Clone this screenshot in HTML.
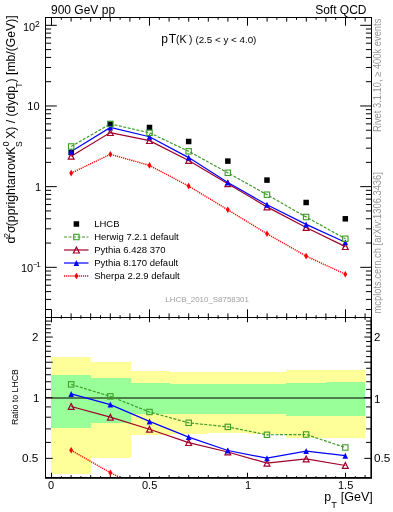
<!DOCTYPE html>
<html><head><meta charset="utf-8"><style>
html,body{margin:0;padding:0;background:#fff;width:393px;height:512px;overflow:hidden;position:relative;font-family:"Liberation Sans",sans-serif;}
</style></head><body>
<svg width="393" height="512" viewBox="0 0 393 512" style="position:absolute;left:0;top:0;will-change:transform">
<rect x="0" y="0" width="393" height="512" fill="#fff"/>
<rect x="51.00" y="357.00" width="40.00" height="117.00" fill="#ffff99"/>
<rect x="91.00" y="362.00" width="40.00" height="96.00" fill="#ffff99"/>
<rect x="131.00" y="371.00" width="39.00" height="64.00" fill="#ffff99"/>
<rect x="170.00" y="372.00" width="38.00" height="62.00" fill="#ffff99"/>
<rect x="208.00" y="372.00" width="40.00" height="61.00" fill="#ffff99"/>
<rect x="248.00" y="372.00" width="38.00" height="62.00" fill="#ffff99"/>
<rect x="286.00" y="370.00" width="40.00" height="68.00" fill="#ffff99"/>
<rect x="326.00" y="370.00" width="39.00" height="68.00" fill="#ffff99"/>
<rect x="51.00" y="375.00" width="40.00" height="53.00" fill="#99ff99"/>
<rect x="91.00" y="378.00" width="40.00" height="45.00" fill="#99ff99"/>
<rect x="131.00" y="383.00" width="39.00" height="31.00" fill="#99ff99"/>
<rect x="170.00" y="384.00" width="38.00" height="30.00" fill="#99ff99"/>
<rect x="208.00" y="384.00" width="40.00" height="30.00" fill="#99ff99"/>
<rect x="248.00" y="384.00" width="38.00" height="30.00" fill="#99ff99"/>
<rect x="286.00" y="383.00" width="40.00" height="33.00" fill="#99ff99"/>
<rect x="326.00" y="382.00" width="39.00" height="34.00" fill="#99ff99"/>
<line x1="45" y1="398" x2="371" y2="398" stroke="#000" stroke-width="1"/>
<rect x="45.5" y="17.5" width="326" height="300" fill="none" stroke="#000" stroke-width="1"/>
<rect x="45.5" y="317.5" width="326" height="160" fill="none" stroke="#000" stroke-width="1"/>
<rect x="45" y="478" width="327" height="0.8" fill="#000"/>
<rect x="370.4" y="318" width="0.6" height="160" fill="#000"/>
<path d="M51.50 17.50L51.50 25.70 M51.50 317.50L51.50 309.30 M51.50 317.50L51.50 322.30 M51.50 477.50L51.50 472.70 M61.30 17.50L61.30 19.80 M61.30 317.50L61.30 315.20 M61.30 317.50L61.30 318.80 M61.30 477.50L61.30 476.20 M71.10 17.50L71.10 21.60 M71.10 317.50L71.10 313.40 M71.10 317.50L71.10 319.90 M71.10 477.50L71.10 475.10 M80.90 17.50L80.90 19.80 M80.90 317.50L80.90 315.20 M80.90 317.50L80.90 318.80 M80.90 477.50L80.90 476.20 M90.70 17.50L90.70 21.60 M90.70 317.50L90.70 313.40 M90.70 317.50L90.70 319.90 M90.70 477.50L90.70 475.10 M100.50 17.50L100.50 19.80 M100.50 317.50L100.50 315.20 M100.50 317.50L100.50 318.80 M100.50 477.50L100.50 476.20 M110.30 17.50L110.30 21.60 M110.30 317.50L110.30 313.40 M110.30 317.50L110.30 319.90 M110.30 477.50L110.30 475.10 M120.10 17.50L120.10 19.80 M120.10 317.50L120.10 315.20 M120.10 317.50L120.10 318.80 M120.10 477.50L120.10 476.20 M129.90 17.50L129.90 21.60 M129.90 317.50L129.90 313.40 M129.90 317.50L129.90 319.90 M129.90 477.50L129.90 475.10 M139.70 17.50L139.70 19.80 M139.70 317.50L139.70 315.20 M139.70 317.50L139.70 318.80 M139.70 477.50L139.70 476.20 M149.50 17.50L149.50 25.70 M149.50 317.50L149.50 309.30 M149.50 317.50L149.50 322.30 M149.50 477.50L149.50 472.70 M159.30 17.50L159.30 19.80 M159.30 317.50L159.30 315.20 M159.30 317.50L159.30 318.80 M159.30 477.50L159.30 476.20 M169.10 17.50L169.10 21.60 M169.10 317.50L169.10 313.40 M169.10 317.50L169.10 319.90 M169.10 477.50L169.10 475.10 M178.90 17.50L178.90 19.80 M178.90 317.50L178.90 315.20 M178.90 317.50L178.90 318.80 M178.90 477.50L178.90 476.20 M188.70 17.50L188.70 21.60 M188.70 317.50L188.70 313.40 M188.70 317.50L188.70 319.90 M188.70 477.50L188.70 475.10 M198.50 17.50L198.50 19.80 M198.50 317.50L198.50 315.20 M198.50 317.50L198.50 318.80 M198.50 477.50L198.50 476.20 M208.30 17.50L208.30 21.60 M208.30 317.50L208.30 313.40 M208.30 317.50L208.30 319.90 M208.30 477.50L208.30 475.10 M218.10 17.50L218.10 19.80 M218.10 317.50L218.10 315.20 M218.10 317.50L218.10 318.80 M218.10 477.50L218.10 476.20 M227.90 17.50L227.90 21.60 M227.90 317.50L227.90 313.40 M227.90 317.50L227.90 319.90 M227.90 477.50L227.90 475.10 M237.70 17.50L237.70 19.80 M237.70 317.50L237.70 315.20 M237.70 317.50L237.70 318.80 M237.70 477.50L237.70 476.20 M247.50 17.50L247.50 25.70 M247.50 317.50L247.50 309.30 M247.50 317.50L247.50 322.30 M247.50 477.50L247.50 472.70 M257.30 17.50L257.30 19.80 M257.30 317.50L257.30 315.20 M257.30 317.50L257.30 318.80 M257.30 477.50L257.30 476.20 M267.10 17.50L267.10 21.60 M267.10 317.50L267.10 313.40 M267.10 317.50L267.10 319.90 M267.10 477.50L267.10 475.10 M276.90 17.50L276.90 19.80 M276.90 317.50L276.90 315.20 M276.90 317.50L276.90 318.80 M276.90 477.50L276.90 476.20 M286.70 17.50L286.70 21.60 M286.70 317.50L286.70 313.40 M286.70 317.50L286.70 319.90 M286.70 477.50L286.70 475.10 M296.50 17.50L296.50 19.80 M296.50 317.50L296.50 315.20 M296.50 317.50L296.50 318.80 M296.50 477.50L296.50 476.20 M306.30 17.50L306.30 21.60 M306.30 317.50L306.30 313.40 M306.30 317.50L306.30 319.90 M306.30 477.50L306.30 475.10 M316.10 17.50L316.10 19.80 M316.10 317.50L316.10 315.20 M316.10 317.50L316.10 318.80 M316.10 477.50L316.10 476.20 M325.90 17.50L325.90 21.60 M325.90 317.50L325.90 313.40 M325.90 317.50L325.90 319.90 M325.90 477.50L325.90 475.10 M335.70 17.50L335.70 19.80 M335.70 317.50L335.70 315.20 M335.70 317.50L335.70 318.80 M335.70 477.50L335.70 476.20 M345.50 17.50L345.50 25.70 M345.50 317.50L345.50 309.30 M345.50 317.50L345.50 322.30 M345.50 477.50L345.50 472.70 M355.30 17.50L355.30 19.80 M355.30 317.50L355.30 315.20 M355.30 317.50L355.30 318.80 M355.30 477.50L355.30 476.20 M365.10 17.50L365.10 21.60 M365.10 317.50L365.10 313.40 M365.10 317.50L365.10 319.90 M365.10 477.50L365.10 475.10 M45.50 309.50L51.10 309.50 M371.50 309.50L365.90 309.50 M45.50 299.42L51.10 299.42 M371.50 299.42L365.90 299.42 M45.50 291.60L51.10 291.60 M371.50 291.60L365.90 291.60 M45.50 285.22L51.10 285.22 M371.50 285.22L365.90 285.22 M45.50 279.82L51.10 279.82 M371.50 279.82L365.90 279.82 M45.50 275.14L51.10 275.14 M371.50 275.14L365.90 275.14 M45.50 271.01L51.10 271.01 M371.50 271.01L365.90 271.01 M45.50 267.32L56.80 267.32 M371.50 267.32L360.20 267.32 M45.50 243.04L51.10 243.04 M371.50 243.04L365.90 243.04 M45.50 228.83L51.10 228.83 M371.50 228.83L365.90 228.83 M45.50 218.75L51.10 218.75 M371.50 218.75L365.90 218.75 M45.50 210.93L51.10 210.93 M371.50 210.93L365.90 210.93 M45.50 204.55L51.10 204.55 M371.50 204.55L365.90 204.55 M45.50 199.15L51.10 199.15 M371.50 199.15L365.90 199.15 M45.50 194.47L51.10 194.47 M371.50 194.47L365.90 194.47 M45.50 190.34L51.10 190.34 M371.50 190.34L365.90 190.34 M45.50 186.65L56.80 186.65 M371.50 186.65L360.20 186.65 M45.50 162.37L51.10 162.37 M371.50 162.37L365.90 162.37 M45.50 148.16L51.10 148.16 M371.50 148.16L365.90 148.16 M45.50 138.08L51.10 138.08 M371.50 138.08L365.90 138.08 M45.50 130.26L51.10 130.26 M371.50 130.26L365.90 130.26 M45.50 123.88L51.10 123.88 M371.50 123.88L365.90 123.88 M45.50 118.48L51.10 118.48 M371.50 118.48L365.90 118.48 M45.50 113.80L51.10 113.80 M371.50 113.80L365.90 113.80 M45.50 109.67L51.10 109.67 M371.50 109.67L365.90 109.67 M45.50 105.98L56.80 105.98 M371.50 105.98L360.20 105.98 M45.50 81.70L51.10 81.70 M371.50 81.70L365.90 81.70 M45.50 67.49L51.10 67.49 M371.50 67.49L365.90 67.49 M45.50 57.41L51.10 57.41 M371.50 57.41L365.90 57.41 M45.50 49.59L51.10 49.59 M371.50 49.59L365.90 49.59 M45.50 43.21L51.10 43.21 M371.50 43.21L365.90 43.21 M45.50 37.81L51.10 37.81 M371.50 37.81L365.90 37.81 M45.50 33.13L51.10 33.13 M371.50 33.13L365.90 33.13 M45.50 29.00L51.10 29.00 M371.50 29.00L365.90 29.00 M45.50 25.31L56.80 25.31 M371.50 25.31L360.20 25.31 M45.50 321.09L50.90 321.09 M371.50 321.09L366.10 321.09 M45.50 324.81L50.90 324.81 M371.50 324.81L366.10 324.81 M45.50 328.70L50.90 328.70 M371.50 328.70L366.10 328.70 M45.50 332.77L50.90 332.77 M371.50 332.77L366.10 332.77 M45.50 337.04L52.70 337.04 M371.50 337.04L364.30 337.04 M45.50 341.53L50.90 341.53 M371.50 341.53L366.10 341.53 M45.50 346.26L50.90 346.26 M371.50 346.26L366.10 346.26 M45.50 351.26L50.90 351.26 M371.50 351.26L366.10 351.26 M45.50 356.57L50.90 356.57 M371.50 356.57L366.10 356.57 M45.50 362.22L52.70 362.22 M371.50 362.22L364.30 362.22 M45.50 368.26L50.90 368.26 M371.50 368.26L366.10 368.26 M45.50 374.74L50.90 374.74 M371.50 374.74L366.10 374.74 M45.50 381.74L50.90 381.74 M371.50 381.74L366.10 381.74 M45.50 389.36L50.90 389.36 M371.50 389.36L366.10 389.36 M45.50 397.70L52.70 397.70 M371.50 397.70L364.30 397.70 M45.50 406.92L50.90 406.92 M371.50 406.92L366.10 406.92 M45.50 417.23L50.90 417.23 M371.50 417.23L366.10 417.23 M45.50 428.91L50.90 428.91 M371.50 428.91L366.10 428.91 M45.50 442.40L50.90 442.40 M371.50 442.40L366.10 442.40 M45.50 458.36L52.70 458.36 M371.50 458.36L364.30 458.36" stroke="#000" stroke-width="1" fill="none"/>
<defs><clipPath id="cu"><rect x="46" y="18" width="325" height="299"/></clipPath><clipPath id="cl"><rect x="46" y="318" width="325" height="159"/></clipPath></defs>
<path d="M71.18 173.10 L110.34 154.30 L149.50 165.40 L188.66 186.10 L227.82 209.80 L266.98 233.75 L306.14 256.10 L345.30 274.20" fill="none" stroke="#ff0000" stroke-width="1.4" stroke-dasharray="1.2 0.9"/>
<path d="M71.18 156.30 L110.34 132.60 L149.50 140.60 L188.66 160.50 L227.82 183.75 L266.98 206.90 L306.14 227.50 L345.30 246.60" fill="none" stroke="#a0002a" stroke-width="1.2"/>
<path d="M71.18 151.60 L110.34 127.50 L149.50 136.70 L188.66 157.60 L227.82 182.50 L266.98 204.80 L306.14 224.40 L345.30 242.20" fill="none" stroke="#0000ff" stroke-width="1.2"/>
<path d="M71.18 146.50 L110.34 123.90 L149.50 132.80 L188.66 151.30 L227.82 172.80 L266.98 194.70 L306.14 217.00 L345.30 238.75" fill="none" stroke="#3c9c28" stroke-width="1.2" stroke-dasharray="3 1.5"/>
<rect x="68.43" y="149.65" width="5.5" height="5.5" fill="#000"/>
<rect x="107.59" y="121.35" width="5.5" height="5.5" fill="#000"/>
<rect x="146.75" y="124.75" width="5.5" height="5.5" fill="#000"/>
<rect x="185.91" y="138.75" width="5.5" height="5.5" fill="#000"/>
<rect x="225.07" y="158.35" width="5.5" height="5.5" fill="#000"/>
<rect x="264.23" y="177.35" width="5.5" height="5.5" fill="#000"/>
<rect x="303.39" y="199.75" width="5.5" height="5.5" fill="#000"/>
<rect x="342.55" y="216.05" width="5.5" height="5.5" fill="#000"/>
<path d="M71.18 169.80 L73.18 173.10 L71.18 176.40 L69.18 173.10 Z" fill="#ff0000"/>
<path d="M110.34 151.00 L112.34 154.30 L110.34 157.60 L108.34 154.30 Z" fill="#ff0000"/>
<path d="M149.50 162.10 L151.50 165.40 L149.50 168.70 L147.50 165.40 Z" fill="#ff0000"/>
<path d="M188.66 182.80 L190.66 186.10 L188.66 189.40 L186.66 186.10 Z" fill="#ff0000"/>
<path d="M227.82 206.50 L229.82 209.80 L227.82 213.10 L225.82 209.80 Z" fill="#ff0000"/>
<path d="M266.98 230.45 L268.98 233.75 L266.98 237.05 L264.98 233.75 Z" fill="#ff0000"/>
<path d="M306.14 252.80 L308.14 256.10 L306.14 259.40 L304.14 256.10 Z" fill="#ff0000"/>
<path d="M345.30 270.90 L347.30 274.20 L345.30 277.50 L343.30 274.20 Z" fill="#ff0000"/>
<path d="M71.18 153.40 L74.08 159.20 L68.28 159.20 Z" fill="none" stroke="#a0002a" stroke-width="1.2" stroke-linejoin="miter"/>
<path d="M110.34 129.70 L113.24 135.50 L107.44 135.50 Z" fill="none" stroke="#a0002a" stroke-width="1.2" stroke-linejoin="miter"/>
<path d="M149.50 137.70 L152.40 143.50 L146.60 143.50 Z" fill="none" stroke="#a0002a" stroke-width="1.2" stroke-linejoin="miter"/>
<path d="M188.66 157.60 L191.56 163.40 L185.76 163.40 Z" fill="none" stroke="#a0002a" stroke-width="1.2" stroke-linejoin="miter"/>
<path d="M227.82 180.85 L230.72 186.65 L224.92 186.65 Z" fill="none" stroke="#a0002a" stroke-width="1.2" stroke-linejoin="miter"/>
<path d="M266.98 204.00 L269.88 209.80 L264.08 209.80 Z" fill="none" stroke="#a0002a" stroke-width="1.2" stroke-linejoin="miter"/>
<path d="M306.14 224.60 L309.04 230.40 L303.24 230.40 Z" fill="none" stroke="#a0002a" stroke-width="1.2" stroke-linejoin="miter"/>
<path d="M345.30 243.70 L348.20 249.50 L342.40 249.50 Z" fill="none" stroke="#a0002a" stroke-width="1.2" stroke-linejoin="miter"/>
<path d="M71.18 148.60 L73.98 154.60 L68.38 154.60 Z" fill="#0000ff"/>
<path d="M110.34 124.50 L113.14 130.50 L107.54 130.50 Z" fill="#0000ff"/>
<path d="M149.50 133.70 L152.30 139.70 L146.70 139.70 Z" fill="#0000ff"/>
<path d="M188.66 154.60 L191.46 160.60 L185.86 160.60 Z" fill="#0000ff"/>
<path d="M227.82 179.50 L230.62 185.50 L225.02 185.50 Z" fill="#0000ff"/>
<path d="M266.98 201.80 L269.78 207.80 L264.18 207.80 Z" fill="#0000ff"/>
<path d="M306.14 221.40 L308.94 227.40 L303.34 227.40 Z" fill="#0000ff"/>
<path d="M345.30 239.20 L348.10 245.20 L342.50 245.20 Z" fill="#0000ff"/>
<rect x="68.48" y="143.80" width="5.4" height="5.4" fill="none" stroke="#3c9c28" stroke-width="1.1"/>
<rect x="107.64" y="121.20" width="5.4" height="5.4" fill="none" stroke="#3c9c28" stroke-width="1.1"/>
<rect x="146.80" y="130.10" width="5.4" height="5.4" fill="none" stroke="#3c9c28" stroke-width="1.1"/>
<rect x="185.96" y="148.60" width="5.4" height="5.4" fill="none" stroke="#3c9c28" stroke-width="1.1"/>
<rect x="225.12" y="170.10" width="5.4" height="5.4" fill="none" stroke="#3c9c28" stroke-width="1.1"/>
<rect x="264.28" y="192.00" width="5.4" height="5.4" fill="none" stroke="#3c9c28" stroke-width="1.1"/>
<rect x="303.44" y="214.30" width="5.4" height="5.4" fill="none" stroke="#3c9c28" stroke-width="1.1"/>
<rect x="342.60" y="236.05" width="5.4" height="5.4" fill="none" stroke="#3c9c28" stroke-width="1.1"/>
<path d="M71.18 450.30 L110.34 472.70 L149.50 492.00" fill="none" stroke="#ff0000" stroke-width="1.4" stroke-dasharray="1.2 0.9" clip-path="url(#cl)"/>
<path d="M71.18 406.50 L110.34 417.20 L149.50 429.30 L188.66 442.60 L227.82 452.00 L266.98 463.20 L306.14 458.90 L345.30 465.50" fill="none" stroke="#a0002a" stroke-width="1.2"/>
<path d="M71.18 393.90 L110.34 404.60 L149.50 421.40 L188.66 437.10 L227.82 450.50 L266.98 458.20 L306.14 451.10 L345.30 455.70" fill="none" stroke="#0000ff" stroke-width="1.2"/>
<path d="M71.18 384.40 L110.34 396.40 L149.50 412.00 L188.66 422.80 L227.82 426.90 L266.98 434.80 L306.14 434.50 L345.30 447.50" fill="none" stroke="#3c9c28" stroke-width="1.2" stroke-dasharray="3 1.5"/>
<path d="M71.18 447.00 L73.18 450.30 L71.18 453.60 L69.18 450.30 Z" fill="#ff0000"/>
<path d="M110.34 469.40 L112.34 472.70 L110.34 476.00 L108.34 472.70 Z" fill="#ff0000"/>
<path d="M71.18 403.60 L74.08 409.40 L68.28 409.40 Z" fill="none" stroke="#a0002a" stroke-width="1.2" stroke-linejoin="miter"/>
<path d="M110.34 414.30 L113.24 420.10 L107.44 420.10 Z" fill="none" stroke="#a0002a" stroke-width="1.2" stroke-linejoin="miter"/>
<path d="M149.50 426.40 L152.40 432.20 L146.60 432.20 Z" fill="none" stroke="#a0002a" stroke-width="1.2" stroke-linejoin="miter"/>
<path d="M188.66 439.70 L191.56 445.50 L185.76 445.50 Z" fill="none" stroke="#a0002a" stroke-width="1.2" stroke-linejoin="miter"/>
<path d="M227.82 449.10 L230.72 454.90 L224.92 454.90 Z" fill="none" stroke="#a0002a" stroke-width="1.2" stroke-linejoin="miter"/>
<path d="M266.98 460.30 L269.88 466.10 L264.08 466.10 Z" fill="none" stroke="#a0002a" stroke-width="1.2" stroke-linejoin="miter"/>
<path d="M306.14 456.00 L309.04 461.80 L303.24 461.80 Z" fill="none" stroke="#a0002a" stroke-width="1.2" stroke-linejoin="miter"/>
<path d="M345.30 462.60 L348.20 468.40 L342.40 468.40 Z" fill="none" stroke="#a0002a" stroke-width="1.2" stroke-linejoin="miter"/>
<path d="M71.18 390.90 L73.98 396.90 L68.38 396.90 Z" fill="#0000ff"/>
<path d="M110.34 401.60 L113.14 407.60 L107.54 407.60 Z" fill="#0000ff"/>
<path d="M149.50 418.40 L152.30 424.40 L146.70 424.40 Z" fill="#0000ff"/>
<path d="M188.66 434.10 L191.46 440.10 L185.86 440.10 Z" fill="#0000ff"/>
<path d="M227.82 447.50 L230.62 453.50 L225.02 453.50 Z" fill="#0000ff"/>
<path d="M266.98 455.20 L269.78 461.20 L264.18 461.20 Z" fill="#0000ff"/>
<path d="M306.14 448.10 L308.94 454.10 L303.34 454.10 Z" fill="#0000ff"/>
<path d="M345.30 452.70 L348.10 458.70 L342.50 458.70 Z" fill="#0000ff"/>
<rect x="68.48" y="381.70" width="5.4" height="5.4" fill="none" stroke="#3c9c28" stroke-width="1.1"/>
<rect x="107.64" y="393.70" width="5.4" height="5.4" fill="none" stroke="#3c9c28" stroke-width="1.1"/>
<rect x="146.80" y="409.30" width="5.4" height="5.4" fill="none" stroke="#3c9c28" stroke-width="1.1"/>
<rect x="185.96" y="420.10" width="5.4" height="5.4" fill="none" stroke="#3c9c28" stroke-width="1.1"/>
<rect x="225.12" y="424.20" width="5.4" height="5.4" fill="none" stroke="#3c9c28" stroke-width="1.1"/>
<rect x="264.28" y="432.10" width="5.4" height="5.4" fill="none" stroke="#3c9c28" stroke-width="1.1"/>
<rect x="303.44" y="431.80" width="5.4" height="5.4" fill="none" stroke="#3c9c28" stroke-width="1.1"/>
<rect x="342.60" y="444.80" width="5.4" height="5.4" fill="none" stroke="#3c9c28" stroke-width="1.1"/>
<rect x="73.65" y="221.25" width="5.5" height="5.5" fill="#000"/>
<path d="M64.00 237.00 L88.50 237.00" fill="none" stroke="#3c9c28" stroke-width="1.2" stroke-dasharray="3 1.5"/>
<rect x="73.70" y="234.30" width="5.4" height="5.4" fill="none" stroke="#3c9c28" stroke-width="1.1"/>
<path d="M64.00 250.00 L88.50 250.00" fill="none" stroke="#a0002a" stroke-width="1.2"/>
<path d="M76.40 247.00 L79.40 253.00 L73.40 253.00 Z" fill="none" stroke="#a0002a" stroke-width="1.2" stroke-linejoin="miter"/>
<path d="M64.00 263.00 L88.50 263.00" fill="none" stroke="#0000ff" stroke-width="1.2"/>
<path d="M76.40 260.00 L79.20 266.00 L73.60 266.00 Z" fill="#0000ff"/>
<path d="M64.00 276.00 L88.50 276.00" fill="none" stroke="#ff0000" stroke-width="1.4" stroke-dasharray="1.2 0.9"/>
<path d="M76.40 272.70 L78.40 276.00 L76.40 279.30 L74.40 276.00 Z" fill="#ff0000"/>
<text x="94.2" y="227.40" font-family="Liberation Sans, sans-serif" font-size="9.5" fill="#000">LHCB</text>
<text x="94.2" y="240.40" font-family="Liberation Sans, sans-serif" font-size="9.5" fill="#000">Herwig 7.2.1 default</text>
<text x="94.2" y="253.40" font-family="Liberation Sans, sans-serif" font-size="9.5" fill="#000">Pythia 6.428 370</text>
<text x="94.2" y="266.40" font-family="Liberation Sans, sans-serif" font-size="9.5" fill="#000">Pythia 8.170 default</text>
<text x="94.2" y="279.40" font-family="Liberation Sans, sans-serif" font-size="9.5" fill="#000">Sherpa 2.2.9 default</text>
<text x="51" y="14" font-family="Liberation Sans, sans-serif" font-size="12">900 GeV pp</text>
<text x="366.5" y="14" font-family="Liberation Sans, sans-serif" font-size="12" text-anchor="end">Soft QCD</text>
<text x="161.2" y="42.7" font-family="Liberation Sans, sans-serif" font-size="12">p</text><text x="168.7" y="42.7" font-family="Liberation Sans, sans-serif" font-size="12">T</text>
<text x="176" y="42.9" font-family="Liberation Sans, sans-serif" font-size="10">(</text><text x="179.4" y="42.9" font-family="Liberation Sans, sans-serif" font-size="10.5">K</text><text x="189" y="42.9" font-family="Liberation Sans, sans-serif" font-size="10">)</text>
<rect x="186.3" y="34.2" width="1.4" height="1.4" fill="#bbb"/>
<text x="195.4" y="42.9" font-family="Liberation Sans, sans-serif" font-size="9.8">(2.5 &lt; y &lt; 4.0)</text>
<text x="23" y="30.6" font-family="Liberation Sans, sans-serif" font-size="11">10</text>
<text x="35" y="26.9" font-family="Liberation Sans, sans-serif" font-size="8.5">2</text>
<text x="27.3" y="109.7" font-family="Liberation Sans, sans-serif" font-size="11">10</text>
<text x="35" y="191" font-family="Liberation Sans, sans-serif" font-size="11">1</text>
<text x="21" y="271.8" font-family="Liberation Sans, sans-serif" font-size="11">10</text>
<text x="33" y="267.4" font-family="Liberation Sans, sans-serif" font-size="7.5">&#8722;</text>
<text x="36.3" y="267.4" font-family="Liberation Sans, sans-serif" font-size="8">1</text>
<text x="32" y="341" font-family="Liberation Sans, sans-serif" font-size="11.5">2</text>
<text x="33" y="402.2" font-family="Liberation Sans, sans-serif" font-size="11.5">1</text>
<text x="22" y="462.2" font-family="Liberation Sans, sans-serif" font-size="11.8">0.5</text>
<text x="374" y="341" font-family="Liberation Sans, sans-serif" font-size="11.5">2</text>
<text x="374" y="402.7" font-family="Liberation Sans, sans-serif" font-size="11.5">1</text>
<text x="374" y="462.2" font-family="Liberation Sans, sans-serif" font-size="11.8">0.5</text>
<text x="48" y="488.9" font-family="Liberation Sans, sans-serif" font-size="11">0</text>
<text x="142" y="488.9" font-family="Liberation Sans, sans-serif" font-size="11">0.5</text>
<text x="245.1" y="488.9" font-family="Liberation Sans, sans-serif" font-size="11">1</text>
<text x="338" y="488.9" font-family="Liberation Sans, sans-serif" font-size="11">1.5</text>
<text x="324.3" y="501.2" font-family="Liberation Sans, sans-serif" font-size="12.3">p</text><text x="331.3" y="508" font-family="Liberation Sans, sans-serif" font-size="9.2">T</text><text x="340.8" y="501.2" font-family="Liberation Sans, sans-serif" font-size="12.5">[GeV]</text>
<text transform="translate(15.4,243.6) rotate(-90)" font-family="Liberation Sans, sans-serif" font-size="12.2" fill="#000">d</text>
<text transform="translate(9.5,237.8) rotate(-90)" font-family="Liberation Sans, sans-serif" font-size="8.5" fill="#000">2</text>
<text transform="translate(15.4,233.1) rotate(-90)" font-family="Liberation Sans, sans-serif" font-size="12.2" fill="#000">&#963;</text>
<text transform="translate(15.4,226.2) rotate(-90)" font-family="Liberation Sans, sans-serif" font-size="12.2" fill="#000">(pprightarrow</text>
<text transform="translate(15.4,154.7) rotate(-90)" font-family="Liberation Sans, sans-serif" font-size="12.2" fill="#000">K</text>
<text transform="translate(9.3,146.3) rotate(-90)" font-family="Liberation Sans, sans-serif" font-size="8.5" fill="#000">0</text>
<text transform="translate(22,146.9) rotate(-90)" font-family="Liberation Sans, sans-serif" font-size="8.5" fill="#000">S</text>
<text transform="translate(15.4,138.8) rotate(-90)" font-family="Liberation Sans, sans-serif" font-size="12.2" fill="#000">X) / (dydp</text>
<text transform="translate(22,87.7) rotate(-90)" font-family="Liberation Sans, sans-serif" font-size="8.5" fill="#000">T</text>
<text transform="translate(15.4,82.4) rotate(-90)" font-family="Liberation Sans, sans-serif" font-size="12.2" fill="#000">) [mb/(GeV)]</text>
<text transform="translate(17.6,425.1) rotate(-90)" font-family="Liberation Sans, sans-serif" font-size="9.5" textLength="56" lengthAdjust="spacingAndGlyphs">Ratio to LHCB</text>
<text transform="translate(380.5,131.9) rotate(-90)" font-family="Liberation Sans, sans-serif" font-size="10" fill="#959595" textLength="113.24" lengthAdjust="spacingAndGlyphs">Rivet 3.1.10, &#8805; 400k events</text>
<text transform="translate(380.9,313.5) rotate(-90)" font-family="Liberation Sans, sans-serif" font-size="10" fill="#959595" textLength="141.36" lengthAdjust="spacingAndGlyphs">mcplots.cern.ch [arXiv:1306.3436]</text>
<text x="165.3" y="302.2" font-family="Liberation Sans, sans-serif" font-size="8" fill="#a0a0a0" textLength="83.6" lengthAdjust="spacingAndGlyphs">LHCB_2010_S8758301</text>
</svg>
</body></html>
